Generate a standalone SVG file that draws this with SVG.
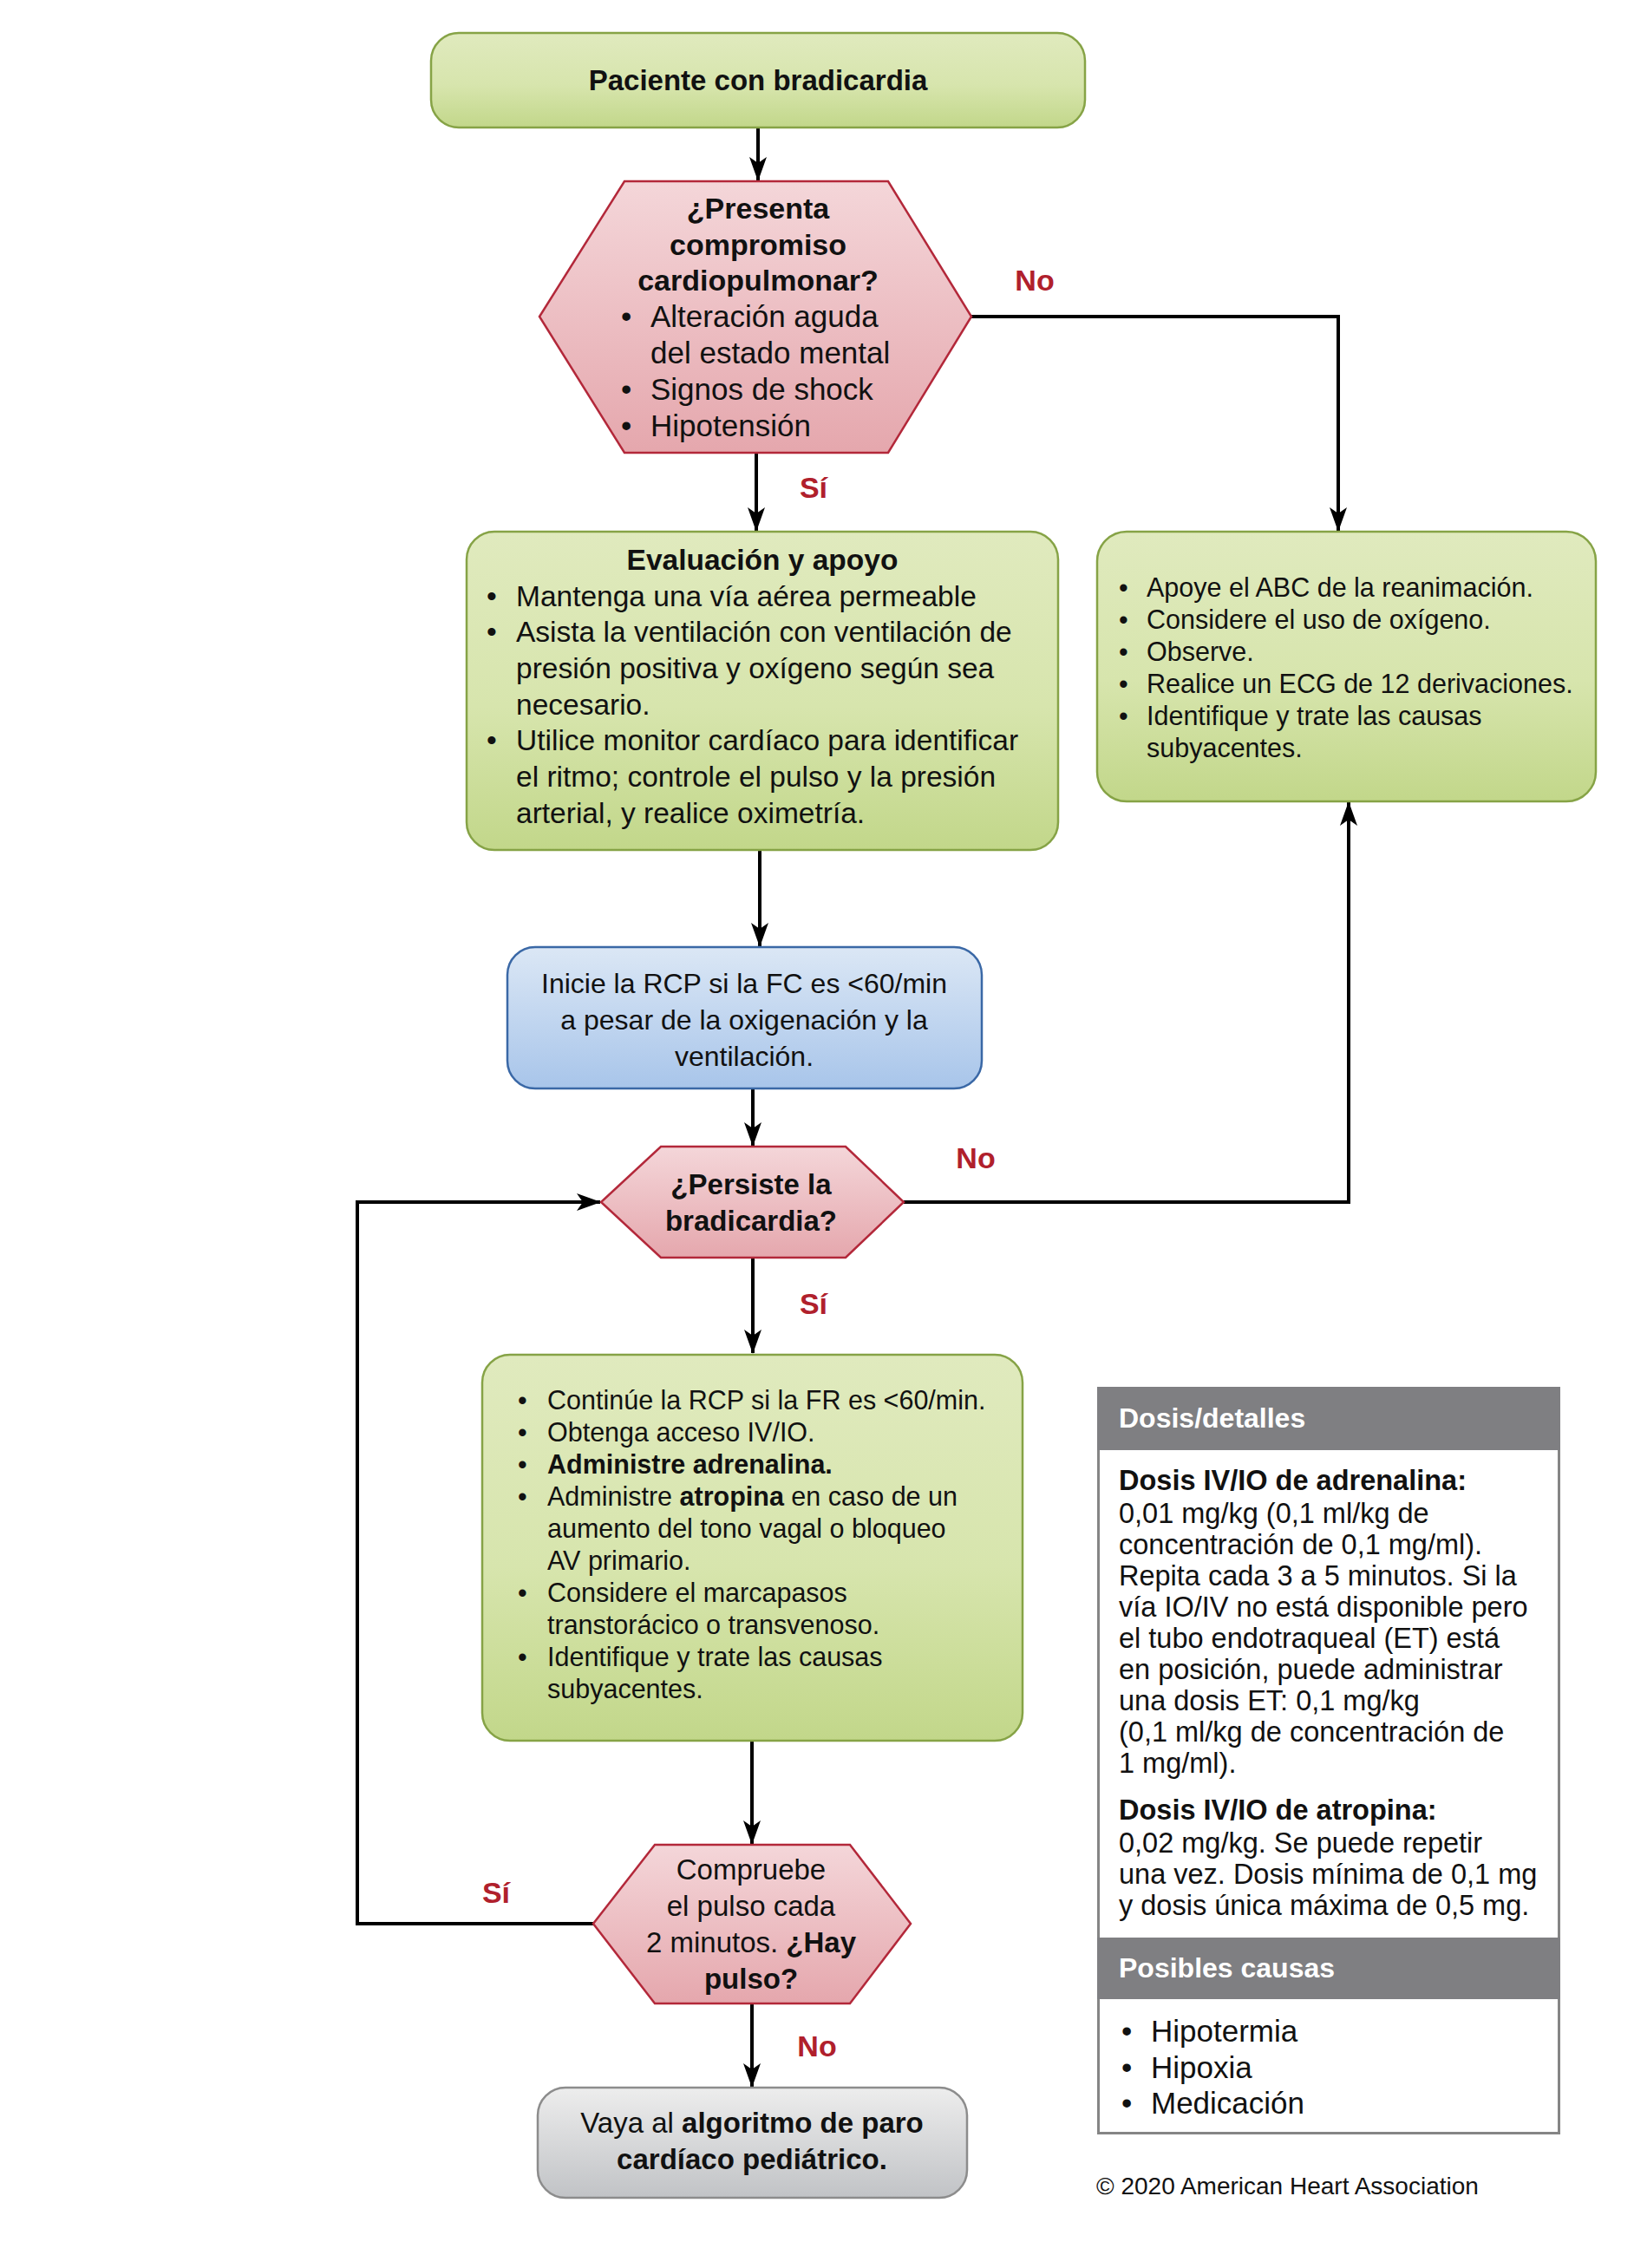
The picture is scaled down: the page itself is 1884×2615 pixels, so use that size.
<svg xmlns="http://www.w3.org/2000/svg" width="1884" height="2615" viewBox="0 0 1884 2615">
<style>
text{font-family:"Liberation Sans",Arial,Helvetica,sans-serif;fill:#111}
.b{font-weight:bold}
.c{text-anchor:middle}
.lbl{font-weight:bold;fill:#b0202c;font-size:34px;text-anchor:middle}
.green{fill:url(#gGreen);stroke:#86a346;stroke-width:2.5}
.pink{fill:url(#gPink);stroke:#b3283a;stroke-width:2.5}
.blue{fill:url(#gBlue);stroke:#3a68a6;stroke-width:2.5}
.gray{fill:url(#gGray);stroke:#8c8c8c;stroke-width:2.5}
.conn{fill:none;stroke:#000;stroke-width:4;marker-end:url(#arr)}
.hdr{fill:#fff;font-weight:bold;font-size:32px}
</style>
<defs>
<linearGradient id="gGreen" x1="0" y1="0" x2="0" y2="1"><stop offset="0" stop-color="#e0eabe"/><stop offset="0.55" stop-color="#d7e5ad"/><stop offset="1" stop-color="#c2d78a"/></linearGradient>
<linearGradient id="gPink" x1="0" y1="0" x2="0" y2="1"><stop offset="0" stop-color="#f4d6d9"/><stop offset="1" stop-color="#e5a7ad"/></linearGradient>
<linearGradient id="gBlue" x1="0" y1="0" x2="0" y2="1"><stop offset="0" stop-color="#dbe7f5"/><stop offset="1" stop-color="#a8c5ea"/></linearGradient>
<linearGradient id="gGray" x1="0" y1="0" x2="0" y2="1"><stop offset="0" stop-color="#ededed"/><stop offset="1" stop-color="#c1c3c6"/></linearGradient>
<marker id="arr" viewBox="0 0 28 20" refX="27" refY="10" markerWidth="28" markerHeight="20" markerUnits="userSpaceOnUse" orient="auto"><path d="M0,0 L28,10 L0,20 L7,10 z" fill="#000"/></marker>
</defs>
<rect width="1884" height="2615" fill="#fff"/>

<g id="connectors">
<path class="conn" d="M874,147 V208"/>
<path class="conn" d="M1120,365 H1543 V612"/>
<path class="conn" d="M872,522 V612"/>
<path class="conn" d="M876,980 V1091"/>
<path class="conn" d="M868,1255 V1321"/>
<path class="conn" d="M1042,1386 H1555 V925"/>
<path class="conn" d="M868,1450 V1560"/>
<path class="conn" d="M867,2007 V2126"/>
<path class="conn" d="M685,2218 H412 V1386 H692"/>
<path class="conn" d="M867,2310 V2406"/>
</g>

<g id="labels">
<text class="lbl" x="1193" y="335">No</text>
<text class="lbl" x="938" y="574">Sí</text>
<text class="lbl" x="1125" y="1347">No</text>
<text class="lbl" x="938" y="1515">Sí</text>
<text class="lbl" x="572" y="2194">Sí</text>
<text class="lbl" x="942" y="2371">No</text>
</g>

<g id="start">
<rect class="green" x="497" y="38" width="754" height="109" rx="32"/>
<text class="b c" x="874" y="104" font-size="33">Paciente con bradicardia</text>
</g>

<g id="q1">
<polygon class="pink" points="720,209 1024,209 1120,365 1024,522 720,522 622,365"/>
<g font-size="34">
<text class="b c" x="874" y="252">¿Presenta</text>
<text class="b c" x="874" y="294">compromiso</text>
<text class="b c" x="874" y="335">cardiopulmonar?</text>
</g>
<g font-size="35">
<text x="716" y="377">•</text><text x="750" y="377">Alteración aguda</text>
<text x="750" y="419">del estado mental</text>
<text x="716" y="461">•</text><text x="750" y="461">Signos de shock</text>
<text x="716" y="503">•</text><text x="750" y="503">Hipotensión</text>
</g>
</g>

<g id="eval">
<rect class="green" x="538" y="613" width="682" height="367" rx="32"/>
<text class="b c" x="879" y="657" font-size="33.5">Evaluación y apoyo</text>
<g font-size="33.5">
<text x="561" y="699">•</text><text x="595" y="699">Mantenga una vía aérea permeable</text>
<text x="561" y="740">•</text><text x="595" y="740">Asista la ventilación con ventilación de</text>
<text x="595" y="782">presión positiva y oxígeno según sea</text>
<text x="595" y="824">necesario.</text>
<text x="561" y="865">•</text><text x="595" y="865">Utilice monitor cardíaco para identificar</text>
<text x="595" y="907">el ritmo; controle el pulso y la presión</text>
<text x="595" y="949">arterial, y realice oximetría.</text>
</g>
</g>

<g id="support">
<rect class="green" x="1265" y="613" width="575" height="311" rx="34"/>
<g font-size="30.5">
<text x="1290" y="688">•</text><text x="1322" y="688">Apoye el ABC de la reanimación.</text>
<text x="1290" y="725">•</text><text x="1322" y="725">Considere el uso de oxígeno.</text>
<text x="1290" y="762">•</text><text x="1322" y="762">Observe.</text>
<text x="1290" y="799">•</text><text x="1322" y="799">Realice un ECG de 12 derivaciones.</text>
<text x="1290" y="836">•</text><text x="1322" y="836">Identifique y trate las causas</text>
<text x="1322" y="873">subyacentes.</text>
</g>
</g>

<g id="cpr">
<rect class="blue" x="585" y="1092" width="547" height="163" rx="32"/>
<g font-size="32">
<text class="c" x="858" y="1145">Inicie la RCP si la FC es &lt;60/min</text>
<text class="c" x="858" y="1187">a pesar de la oxigenación y la</text>
<text class="c" x="858" y="1229">ventilación.</text>
</g>
</g>

<g id="q2">
<polygon class="pink" points="762,1322 975,1322 1042,1386 975,1450 762,1450 693,1386"/>
<text class="b c" x="866" y="1377" font-size="33">¿Persiste la</text>
<text class="b c" x="866" y="1419" font-size="33">bradicardia?</text>
</g>

<g id="treat">
<rect class="green" x="556" y="1562" width="623" height="445" rx="32"/>
<g font-size="30.5">
<text x="597" y="1625">•</text><text x="631" y="1625">Continúe la RCP si la FR es &lt;60/min.</text>
<text x="597" y="1662">•</text><text x="631" y="1662">Obtenga acceso IV/IO.</text>
<text x="597" y="1699">•</text><text x="631" y="1699" class="b">Administre adrenalina.</text>
<text x="597" y="1736">•</text><text x="631" y="1736">Administre <tspan class="b">atropina</tspan> en caso de un</text>
<text x="631" y="1773">aumento del tono vagal o bloqueo</text>
<text x="631" y="1810">AV primario.</text>
<text x="597" y="1847">•</text><text x="631" y="1847">Considere el marcapasos</text>
<text x="631" y="1884">transtorácico o transvenoso.</text>
<text x="597" y="1921">•</text><text x="631" y="1921">Identifique y trate las causas</text>
<text x="631" y="1958">subyacentes.</text>
</g>
</g>

<g id="q3">
<polygon class="pink" points="755,2127 980,2127 1050,2218 980,2310 755,2310 684,2218"/>
<g font-size="33">
<text class="c" x="866" y="2167">Compruebe</text>
<text class="c" x="866" y="2209">el pulso cada</text>
<text class="c" x="866" y="2251">2 minutos. <tspan class="b">¿Hay</tspan></text>
<text class="b c" x="866" y="2293">pulso?</text>
</g>
</g>

<g id="arrest">
<rect class="gray" x="620" y="2407" width="495" height="127" rx="32"/>
<text class="c" x="867" y="2459" font-size="33">Vaya al <tspan class="b">algoritmo de paro</tspan></text>
<text class="b c" x="867" y="2501" font-size="33">cardíaco pediátrico.</text>
</g>

<g id="doses">
<rect x="1266.5" y="1600.5" width="531" height="859" fill="#fff" stroke="#858585" stroke-width="3"/>
<rect x="1265" y="1599" width="534" height="73" fill="#7f7f82"/>
<text class="hdr" x="1290" y="1646">Dosis/detalles</text>
<g font-size="32.5">
<text class="b" x="1290" y="1718">Dosis IV/IO de adrenalina:</text>
<text x="1290" y="1756">0,01 mg/kg (0,1 ml/kg de</text>
<text x="1290" y="1792">concentración de 0,1 mg/ml).</text>
<text x="1290" y="1828">Repita cada 3 a 5 minutos. Si la</text>
<text x="1290" y="1864">vía IO/IV no está disponible pero</text>
<text x="1290" y="1900">el tubo endotraqueal (ET) está</text>
<text x="1290" y="1936">en posición, puede administrar</text>
<text x="1290" y="1972">una dosis ET: 0,1 mg/kg</text>
<text x="1290" y="2008">(0,1 ml/kg de concentración de</text>
<text x="1290" y="2044">1 mg/ml).</text>
<text class="b" x="1290" y="2098">Dosis IV/IO de atropina:</text>
<text x="1290" y="2136">0,02 mg/kg. Se puede repetir</text>
<text x="1290" y="2172">una vez. Dosis mínima de 0,1 mg</text>
<text x="1290" y="2208">y dosis única máxima de 0,5 mg.</text>
</g>
<rect x="1265" y="2234" width="534" height="71" fill="#7f7f82"/>
<text class="hdr" x="1290" y="2280">Posibles causas</text>
<g font-size="35">
<text x="1293" y="2354">•</text><text x="1327" y="2354">Hipotermia</text>
<text x="1293" y="2396">•</text><text x="1327" y="2396">Hipoxia</text>
<text x="1293" y="2437">•</text><text x="1327" y="2437">Medicación</text>
</g>
</g>

<text x="1264" y="2530" font-size="28">© 2020 American Heart Association</text>
</svg>
